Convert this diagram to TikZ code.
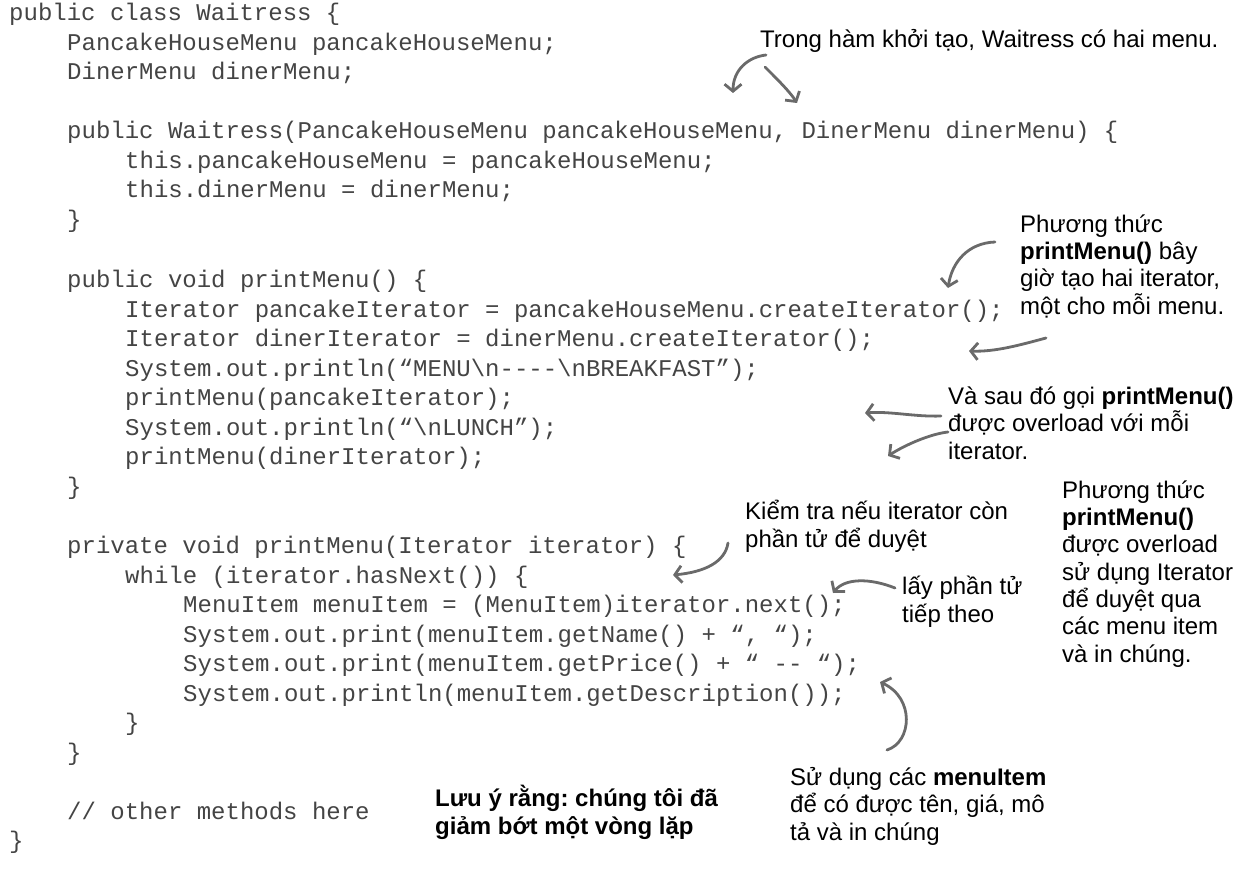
\documentclass[tikz,border=0pt]{standalone}
\usepackage{fontspec}
\setmainfont{Liberation Sans}
\newfontfamily\codefont{Liberation Mono}
\usetikzlibrary{arrows.meta}
\definecolor{codegray}{HTML}{444444}
\definecolor{arrowgray}{HTML}{6A6A6A}
\frenchspacing

\begin{document}
\begin{tikzpicture}[x=1pt,y=-1pt,>={Straight Barb[length=7pt,width=17pt]},
  code/.style={anchor=base west,inner sep=0pt,text=codegray,
    font=\codefont\fontsize{24}{24}\selectfont},
  note/.style={anchor=base west,inner sep=0pt,align=left,
    font=\fontsize{24}{27.3}\selectfont},
  note arrow/.style={->,line width=2.8pt,draw=arrowgray,line cap=round}]
  \useasboundingbox (0,0) rectangle (1242,896);

  % the code
  \node[code] (c1) at (9,21) {public class Waitress \{};
  \node[code] (c2) at (67,51) {PancakeHouseMenu pancakeHouseMenu;};
  \node[code] (c3) at (67,80) {DinerMenu dinerMenu;};
  \node[code] (c5) at (67,139) {public Waitress(PancakeHouseMenu pancakeHouseMenu, DinerMenu dinerMenu) \{};
  \node[code] (c6) at (125,169) {this.pancakeHouseMenu = pancakeHouseMenu;};
  \node[code] (c7) at (125,198) {this.dinerMenu = dinerMenu;};
  \node[code] (c8) at (67,228) {\}};
  \node[code] (c10) at (67,287) {public void printMenu() \{};
  \node[code] (c11) at (125,317) {Iterator pancakeIterator = pancakeHouseMenu.createIterator();};
  \node[code] (c12) at (125,346) {Iterator dinerIterator = dinerMenu.createIterator();};
  \node[code] (c13) at (125,376) {System.out.println(“MENU\textbackslash n-{}-{}-{}-\textbackslash nBREAKFAST”);};
  \node[code] (c14) at (125,405) {printMenu(pancakeIterator);};
  \node[code] (c15) at (125,435) {System.out.println(“\textbackslash nLUNCH”);};
  \node[code] (c16) at (125,464) {printMenu(dinerIterator);};
  \node[code] (c17) at (67,494) {\}};
  \node[code] (c19) at (67,553) {private void printMenu(Iterator iterator) \{};
  \node[code] (c20) at (125,583) {while (iterator.hasNext()) \{};
  \node[code] (c21) at (183,612) {MenuItem menuItem = (MenuItem)iterator.next();};
  \node[code] (c22) at (183,642) {System.out.print(menuItem.getName() + “, “);};
  \node[code] (c23) at (183,671) {System.out.print(menuItem.getPrice() + “ -{}- “);};
  \node[code] (c24) at (183,701) {System.out.println(menuItem.getDescription());};
  \node[code] (c25) at (125,730) {\}};
  \node[code] (c26) at (67,760) {\}};
  \node[code] (c28) at (67,819) {// other methods here};
  \node[code] (c29) at (9,848) {\}};

  % the notes (placed at the baseline of their last line)
  \node[note] (ctor) at (760,48) {Trong hàm khởi tạo, Waitress có hai menu.};
  \node[note] (twoiter) at (1020,314) {Phương thức\\\textbf{printMenu()} bây\\giờ tạo hai iterator,\\một cho mỗi menu.};
  \node[note] (calls) at (948,459) {Và sau đó gọi \textbf{printMenu()}\\được overload với mỗi\\iterator.};
  \node[note] (overload) at (1062,662) {Phương thức\\\textbf{printMenu()}\\được overload\\sử dụng Iterator\\để duyệt qua\\các menu item\\và in chúng.};
  \node[note] (hasnext) at (745,547) {Kiểm tra nếu iterator còn\\phần tử để duyệt};
  \node[note] (next) at (902,622) {lấy phần tử\\tiếp theo};
  \node[note] (useitem) at (790,840) {Sử dụng các \textbf{menuItem}\\để có được tên, giá, mô\\tả và in chúng};
  \node[note,font=\fontsize{24}{27.3}\selectfont\bfseries] (oneloop) at (435,834) {Lưu ý rằng: chúng tôi đã\\giảm bớt một vòng lặp};

  % arrow ends
  \coordinate (a1s) at (766,55);   \coordinate (a1e) at (733,93);
  \coordinate (a2s) at (765,67);   \coordinate (a2e) at (797,103);
  \coordinate (a3s) at (995,242);  \coordinate (a3e) at (948,288);
  \coordinate (a4s) at (1046,338); \coordinate (a4e) at (969,351);
  \coordinate (a5s) at (941,416);  \coordinate (a5e) at (865,413);
  \coordinate (a6s) at (948,432);  \coordinate (a6e) at (888,456);
  \coordinate (a7s) at (728,543);  \coordinate (a7e) at (673,575);
  \coordinate (a8s) at (895,588);  \coordinate (a8e) at (833,593);
  \coordinate (a9s) at (887,750);  \coordinate (a9e) at (880,682);

  \draw[note arrow] (a1s) .. controls (748,57) and (733,70) .. (a1e);
  \draw[note arrow] (a2s) .. controls (778,80) and (790,92) .. (a2e);
  \draw[note arrow] (a3s) .. controls (968,243) and (952,262) .. (a3e);
  \draw[note arrow] (a4s) .. controls (1020,345) and (995,352) .. (a4e);
  \draw[note arrow] (a5s) .. controls (915,417) and (890,411) .. (a5e);
  \draw[note arrow] (a6s) .. controls (930,434) and (905,445) .. (a6e);
  \draw[note arrow] (a7s) .. controls (725,562) and (705,572) .. (a7e);
  \draw[note arrow] (a8s) .. controls (870,578) and (845,578) .. (a8e);
  \draw[note arrow] (a9s) .. controls (912,742) and (915,698) .. (a9e);
\end{tikzpicture}
\end{document}
